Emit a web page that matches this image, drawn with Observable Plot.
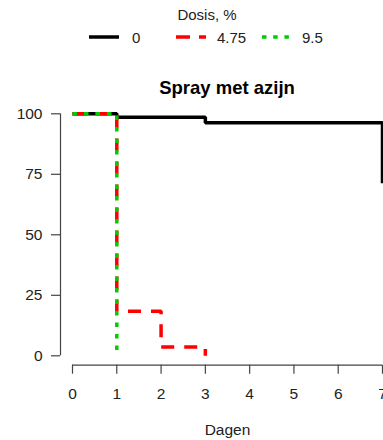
<!DOCTYPE html>
<html><head><meta charset="utf-8">
<script src="https://cdn.jsdelivr.net/npm/d3@7"></script>
<script src="https://cdn.jsdelivr.net/npm/@observablehq/plot@0.6"></script>
<style>
body{margin:0;background:#fff;font-family:"Liberation Sans",Arial,sans-serif;}
#wrap{position:relative;width:383px;height:440px;overflow:hidden;background:#fff}
.t{position:absolute;white-space:nowrap;line-height:1;color:#222;font-size:15px}
#chart{position:absolute;left:0;top:100px}
</style></head><body><div id="wrap"><div id="chart"></div></div>
<script>
// ---- data ----
const doses = ["0", "4.75", "9.5"];
const colors = ["#000000", "#ff0000", "#00cd00"];
const dashes = [null, "13,10", "4.5,7"];
const days0 = [0, 1, 3, 7];
const surv0 = [100, 98.6, 96.3, 71.3];
const days475 = [0, 1, 2, 3];
const surv475 = [100, 18.4, 3.6, 0];
const days95 = [0, 1];
const surv95 = [100, 0];
const xTicks = [0, 1, 2, 3, 4, 5, 6, 7];
const yTicks = [0, 25, 50, 75, 100];
const title = "Spray met azijn";
const xLabel = "Dagen";
const legendTitle = "Dosis, %";

const seriesDays = [days0, days475, days95];
const seriesSurv = [surv0, surv475, surv95];
const series = doses.map((d, i) => seriesDays[i].map((x, j) => ({dose: d, day: x, surv: seriesSurv[i][j]})));

const wrap = document.getElementById("wrap");
function addText(txt, css) {
  const el = document.createElement("div");
  el.className = "t";
  el.textContent = txt;
  Object.assign(el.style, css);
  wrap.appendChild(el);
  return el;
}
// legend
addText(legendTitle, {left: "207px", top: "7px", transform: "translateX(-50%)"});
const swX = [89, 176, 262];
const labX = [132, 217, 302];
doses.forEach((d, i) => {
  const ns = "http://www.w3.org/2000/svg";
  const s = document.createElementNS(ns, "svg");
  s.setAttribute("width", 30); s.setAttribute("height", 8);
  s.style.position = "absolute"; s.style.left = swX[i] + "px"; s.style.top = "33px";
  const l = document.createElementNS(ns, "line");
  l.setAttribute("x1", 0); l.setAttribute("x2", 30); l.setAttribute("y1", 4); l.setAttribute("y2", 4);
  l.setAttribute("stroke", colors[i]); l.setAttribute("stroke-width", 3.5);
  if (dashes[i]) l.setAttribute("stroke-dasharray", i === 1 ? "14,9" : "4.5,6.7");
  s.appendChild(l);
  wrap.appendChild(s);
  addText(d, {left: labX[i] + "px", top: "30px"});
});
// title
addText(title, {left: "227px", top: "79px", transform: "translateX(-50%)", fontWeight: "bold", fontSize: "18.5px", color: "#000"});

const axisColor = "#444";
const plot = Plot.plot({
  width: 383, height: 340,
  marginTop: 13.3, marginBottom: 84.7, marginLeft: 72, marginRight: 1,
  x: {domain: [0, 7]},
  y: {domain: [0, 100]},
  style: {fontFamily: "Liberation Sans, Arial, sans-serif", fontSize: "15.5px", color: "#222", background: "transparent", overflow: "visible"},
  marks: [
    Plot.ruleX([0], {y1: 0, y2: 100, dx: -12, stroke: axisColor, strokeWidth: 1.2}),
    Plot.axisY({ticks: yTicks, tickFormat: d => String(d), tickSize: 9, tickPadding: 9, dx: -12, label: null, stroke: axisColor, strokeWidth: 1.2}),
    Plot.ruleY([0], {x1: 0, x2: 7, dy: 9.4, stroke: axisColor, strokeWidth: 1.2}),
    Plot.axisX({ticks: xTicks, tickFormat: d => String(d), tickSize: 9, tickPadding: 14, dy: 9.4, label: null, stroke: axisColor, strokeWidth: 1.2}),
    ...series.map((data, i) => Plot.line(data, {
      x: "day", y: "surv", curve: "step-after",
      stroke: colors[i], strokeWidth: 3.5, strokeDasharray: dashes[i] || undefined,
      strokeLinecap: "butt", strokeLinejoin: "miter"
    })),
    Plot.text([xLabel], {frameAnchor: "bottom", dy: 79.5, text: d => d, fontSize: 15.5, fill: "#222"})
  ]
});
document.getElementById("chart").appendChild(plot);
</script>
</body></html>
